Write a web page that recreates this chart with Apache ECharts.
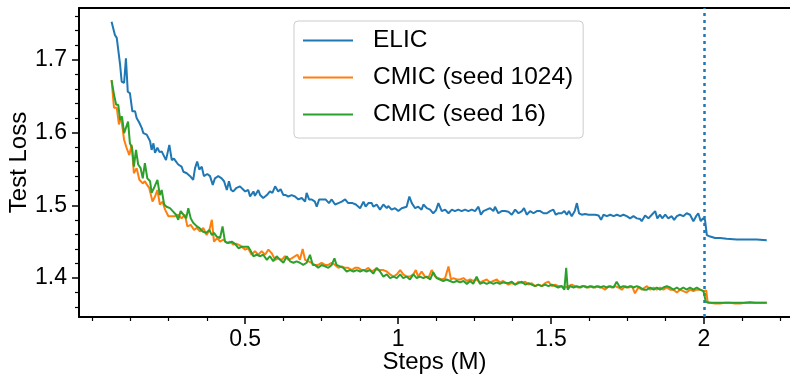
<!DOCTYPE html>
<html>
<head>
<meta charset="utf-8">
<script src="https://cdn.jsdelivr.net/npm/echarts@6/dist/echarts.min.js"></script>
<style>
html,body{margin:0;padding:0;background:#fff;}
#chart{width:790px;height:374px;}
</style>
</head>
<body>
<div id="chart"></div>
<script>
const seriesNames = ['ELIC', 'CMIC (seed 1024)', 'CMIC (seed 16)'];
const xTickLabels = [0.5, 1, 1.5, 2];
const xMinorTicks = [0, 0.125, 0.25, 0.375, 0.625, 0.75, 0.875, 1.125, 1.25, 1.375, 1.625, 1.75, 1.875, 2.125, 2.25];
const yTickLabels = [1.4, 1.5, 1.6, 1.7];
const yMinorTicks = [1.36, 1.38, 1.42, 1.44, 1.46, 1.48, 1.52, 1.54, 1.56, 1.58, 1.62, 1.64, 1.66, 1.68, 1.72, 1.74, 1.76];
const lrDropStep = 2.0;

const elicSteps = [0.063,0.074,0.080,0.091,0.096,0.104,0.110,0.116,0.123,0.131,0.140,0.145,0.153,0.162,0.167,0.178,0.189,0.194,0.200,0.205,0.213,0.220,0.227,0.232,0.241,0.252,0.260,0.267,0.274,0.281,0.292,0.298,0.309,0.320,0.330,0.336,0.343,0.350,0.358,0.365,0.376,0.385,0.394,0.401,0.412,0.423,0.431,0.440,0.447,0.454,0.461,0.472,0.483,0.489,0.500,0.510,0.516,0.527,0.532,0.543,0.549,0.559,0.571,0.581,0.589,0.598,0.603,0.608,0.616,0.625,0.633,0.641,0.652,0.663,0.674,0.685,0.696,0.701,0.709,0.718,0.728,0.734,0.742,0.752,0.763,0.774,0.783,0.794,0.805,0.816,0.827,0.837,0.851,0.862,0.876,0.887,0.894,0.903,0.914,0.919,0.930,0.941,0.952,0.963,0.968,0.979,0.990,1.001,1.012,1.017,1.028,1.037,1.045,1.056,1.066,1.077,1.083,1.094,1.105,1.115,1.124,1.132,1.143,1.154,1.165,1.176,1.186,1.197,1.208,1.219,1.230,1.241,1.252,1.263,1.271,1.279,1.290,1.301,1.312,1.317,1.328,1.339,1.350,1.361,1.372,1.383,1.394,1.405,1.412,1.421,1.432,1.443,1.454,1.465,1.476,1.487,1.497,1.508,1.516,1.524,1.535,1.544,1.552,1.559,1.568,1.578,1.585,1.592,1.601,1.612,1.623,1.634,1.645,1.656,1.664,1.672,1.683,1.694,1.705,1.716,1.727,1.737,1.748,1.759,1.770,1.781,1.792,1.797,1.808,1.819,1.830,1.841,1.848,1.857,1.864,1.874,1.884,1.895,1.903,1.912,1.922,1.933,1.944,1.955,1.966,1.975,1.982,1.990,1.997,2.004,2.010,2.021,2.037,2.053,2.075,2.108,2.140,2.173,2.206];
const elicLoss = [1.752,1.734,1.730,1.693,1.670,1.668,1.702,1.656,1.654,1.629,1.629,1.620,1.614,1.606,1.599,1.597,1.588,1.576,1.585,1.572,1.579,1.573,1.574,1.575,1.562,1.583,1.562,1.564,1.560,1.556,1.553,1.546,1.544,1.540,1.535,1.551,1.560,1.549,1.553,1.540,1.543,1.540,1.528,1.537,1.540,1.537,1.533,1.521,1.533,1.521,1.519,1.524,1.526,1.524,1.519,1.521,1.512,1.519,1.513,1.521,1.514,1.510,1.514,1.519,1.517,1.526,1.528,1.519,1.522,1.514,1.514,1.512,1.514,1.512,1.508,1.510,1.505,1.517,1.508,1.508,1.505,1.498,1.508,1.508,1.508,1.503,1.508,1.501,1.503,1.505,1.508,1.503,1.503,1.501,1.496,1.505,1.498,1.503,1.503,1.498,1.501,1.494,1.501,1.496,1.499,1.494,1.496,1.492,1.496,1.494,1.498,1.512,1.503,1.496,1.498,1.494,1.501,1.496,1.494,1.489,1.493,1.503,1.492,1.494,1.489,1.494,1.492,1.494,1.492,1.494,1.492,1.494,1.492,1.498,1.487,1.492,1.494,1.496,1.492,1.498,1.489,1.492,1.492,1.491,1.487,1.494,1.489,1.492,1.496,1.487,1.492,1.489,1.492,1.492,1.489,1.489,1.492,1.494,1.487,1.489,1.489,1.492,1.487,1.492,1.485,1.492,1.503,1.489,1.487,1.488,1.487,1.487,1.487,1.486,1.480,1.487,1.485,1.487,1.485,1.487,1.485,1.487,1.485,1.482,1.485,1.482,1.481,1.478,1.486,1.482,1.487,1.492,1.482,1.487,1.482,1.487,1.482,1.485,1.480,1.485,1.487,1.485,1.489,1.487,1.478,1.485,1.489,1.478,1.482,1.480,1.459,1.457,1.455,1.455,1.454,1.453,1.453,1.453,1.452];

const cmic1024Steps = [0.063,0.071,0.080,0.087,0.093,0.099,0.104,0.112,0.121,0.129,0.136,0.145,0.154,0.165,0.172,0.179,0.186,0.197,0.205,0.213,0.221,0.230,0.238,0.249,0.260,0.271,0.281,0.292,0.303,0.311,0.322,0.333,0.342,0.352,0.363,0.374,0.383,0.391,0.398,0.409,0.418,0.429,0.440,0.450,0.461,0.472,0.483,0.489,0.500,0.510,0.521,0.532,0.543,0.554,0.565,0.576,0.587,0.598,0.608,0.620,0.630,0.641,0.652,0.663,0.671,0.679,0.688,0.696,0.707,0.718,0.728,0.739,0.750,0.761,0.772,0.783,0.794,0.805,0.816,0.827,0.837,0.849,0.859,0.870,0.881,0.892,0.903,0.914,0.925,0.930,0.941,0.952,0.963,0.974,0.985,0.996,1.007,1.017,1.028,1.039,1.050,1.058,1.066,1.077,1.088,1.099,1.110,1.121,1.132,1.143,1.154,1.165,1.173,1.181,1.192,1.203,1.214,1.225,1.236,1.246,1.257,1.268,1.279,1.290,1.301,1.312,1.323,1.333,1.344,1.350,1.361,1.372,1.383,1.394,1.405,1.416,1.427,1.437,1.448,1.459,1.470,1.481,1.492,1.503,1.514,1.524,1.535,1.546,1.557,1.568,1.579,1.590,1.601,1.612,1.623,1.634,1.645,1.656,1.666,1.677,1.688,1.699,1.710,1.721,1.732,1.743,1.754,1.765,1.775,1.786,1.797,1.803,1.814,1.825,1.836,1.846,1.857,1.868,1.879,1.890,1.901,1.912,1.922,1.933,1.944,1.955,1.966,1.977,1.988,1.999,2.008,2.013,2.021,2.037,2.053,2.070,2.086,2.102,2.119,2.135,2.151,2.168,2.184,2.206];
const cmic1024Loss = [1.672,1.634,1.634,1.611,1.622,1.606,1.590,1.579,1.569,1.583,1.544,1.551,1.535,1.530,1.533,1.528,1.524,1.505,1.512,1.521,1.501,1.505,1.494,1.485,1.485,1.485,1.487,1.482,1.487,1.471,1.473,1.466,1.469,1.464,1.469,1.459,1.466,1.480,1.450,1.455,1.450,1.453,1.448,1.450,1.446,1.447,1.445,1.443,1.439,1.441,1.432,1.437,1.432,1.437,1.432,1.439,1.434,1.425,1.427,1.425,1.430,1.425,1.427,1.430,1.432,1.425,1.440,1.425,1.423,1.421,1.418,1.418,1.421,1.418,1.418,1.421,1.418,1.414,1.416,1.414,1.414,1.411,1.414,1.414,1.411,1.411,1.414,1.409,1.412,1.414,1.411,1.411,1.409,1.405,1.402,1.405,1.411,1.405,1.402,1.402,1.405,1.411,1.402,1.409,1.402,1.400,1.411,1.402,1.400,1.398,1.400,1.416,1.398,1.400,1.398,1.398,1.400,1.396,1.398,1.396,1.398,1.394,1.396,1.398,1.394,1.396,1.398,1.394,1.396,1.395,1.391,1.393,1.391,1.395,1.393,1.395,1.391,1.393,1.389,1.391,1.389,1.393,1.395,1.389,1.391,1.389,1.389,1.387,1.389,1.391,1.389,1.387,1.389,1.389,1.387,1.389,1.387,1.389,1.387,1.384,1.389,1.387,1.389,1.387,1.384,1.389,1.387,1.389,1.379,1.387,1.384,1.382,1.389,1.384,1.387,1.384,1.387,1.384,1.387,1.384,1.384,1.380,1.384,1.382,1.380,1.384,1.382,1.384,1.384,1.382,1.383,1.366,1.366,1.365,1.365,1.366,1.366,1.365,1.365,1.366,1.367,1.366,1.366,1.366];

const cmic16Steps = [0.063,0.071,0.078,0.085,0.091,0.097,0.104,0.110,0.117,0.123,0.130,0.136,0.143,0.150,0.158,0.165,0.172,0.180,0.189,0.194,0.202,0.213,0.221,0.227,0.235,0.243,0.254,0.263,0.274,0.281,0.289,0.298,0.307,0.314,0.322,0.330,0.342,0.350,0.361,0.372,0.383,0.391,0.398,0.407,0.418,0.426,0.434,0.445,0.456,0.467,0.478,0.489,0.500,0.510,0.516,0.527,0.538,0.549,0.559,0.571,0.581,0.592,0.603,0.614,0.625,0.636,0.647,0.658,0.668,0.679,0.690,0.701,0.712,0.721,0.728,0.739,0.750,0.761,0.772,0.783,0.792,0.799,0.810,0.821,0.832,0.843,0.854,0.865,0.876,0.887,0.897,0.908,0.919,0.930,0.941,0.952,0.963,0.974,0.985,0.996,1.007,1.017,1.028,1.039,1.050,1.061,1.072,1.083,1.094,1.105,1.115,1.126,1.137,1.148,1.159,1.170,1.181,1.192,1.203,1.214,1.225,1.236,1.246,1.257,1.268,1.279,1.290,1.301,1.312,1.323,1.333,1.344,1.350,1.361,1.372,1.383,1.394,1.405,1.416,1.427,1.437,1.448,1.459,1.470,1.481,1.492,1.503,1.514,1.524,1.535,1.544,1.550,1.555,1.563,1.574,1.585,1.596,1.606,1.617,1.628,1.639,1.650,1.661,1.672,1.683,1.694,1.705,1.715,1.726,1.737,1.748,1.759,1.770,1.781,1.792,1.803,1.814,1.825,1.836,1.846,1.857,1.868,1.879,1.890,1.901,1.912,1.922,1.933,1.944,1.955,1.966,1.977,1.988,1.999,2.004,2.007,2.021,2.037,2.053,2.070,2.086,2.102,2.119,2.135,2.151,2.168,2.184,2.206];
const cmic16Loss = [1.672,1.652,1.638,1.638,1.617,1.622,1.599,1.601,1.615,1.585,1.579,1.553,1.576,1.556,1.551,1.537,1.558,1.537,1.533,1.517,1.524,1.535,1.514,1.521,1.501,1.498,1.496,1.492,1.487,1.480,1.492,1.487,1.482,1.496,1.482,1.476,1.471,1.469,1.464,1.462,1.466,1.459,1.462,1.457,1.455,1.471,1.450,1.448,1.450,1.447,1.441,1.443,1.443,1.443,1.439,1.430,1.432,1.430,1.432,1.425,1.430,1.423,1.430,1.425,1.421,1.430,1.423,1.421,1.423,1.421,1.418,1.421,1.432,1.418,1.418,1.414,1.418,1.416,1.414,1.418,1.427,1.418,1.416,1.414,1.409,1.411,1.409,1.411,1.409,1.411,1.409,1.411,1.406,1.414,1.409,1.402,1.405,1.400,1.402,1.400,1.405,1.400,1.402,1.398,1.405,1.400,1.402,1.400,1.402,1.398,1.408,1.400,1.398,1.396,1.398,1.396,1.394,1.396,1.394,1.396,1.392,1.396,1.392,1.402,1.392,1.394,1.392,1.394,1.392,1.394,1.392,1.394,1.393,1.393,1.395,1.391,1.393,1.395,1.391,1.393,1.391,1.389,1.391,1.389,1.391,1.389,1.391,1.389,1.387,1.389,1.384,1.414,1.384,1.389,1.387,1.389,1.387,1.389,1.387,1.389,1.387,1.389,1.387,1.389,1.387,1.389,1.387,1.395,1.387,1.389,1.387,1.389,1.387,1.389,1.387,1.384,1.384,1.387,1.384,1.387,1.384,1.387,1.389,1.387,1.384,1.387,1.384,1.387,1.384,1.387,1.384,1.387,1.384,1.382,1.380,1.367,1.366,1.366,1.366,1.366,1.366,1.366,1.366,1.366,1.366,1.366,1.366,1.366];

const colors = ['#1f77b4', '#ff7f0e', '#2ca02c'];
const FONT = 'Liberation Sans, Arial, Helvetica, sans-serif';
const zip = (xs, ys) => xs.map((x, i) => [x, ys[i]]);

const X_MIN = -0.0435, X_MAX = 2.282, Y_MIN = 1.3465, Y_MAX = 1.771;

const chart = echarts.init(document.getElementById('chart'), null, {renderer: 'canvas'});
const option = {
  animation: false,
  backgroundColor: '#fff',
  grid: {left: 79, right: 0, top: 8, bottom: 57, containLabel: false, outerBoundsMode: 'none'},
  legend: {
    orient: 'vertical',
    left: 294, top: 21,
    data: seriesNames,
    icon: 'rect',
    itemWidth: 50, itemHeight: 2, itemGap: 12,
    padding: [7, 10, 11, 9],
    backgroundColor: 'rgba(255,255,255,0.8)',
    borderColor: '#cccccc', borderWidth: 1, borderRadius: 4,
    textStyle: {fontFamily: FONT, fontSize: 24.5, color: '#000', lineHeight: 24, padding: [0, 0, 0, 15]}
  },
  xAxis: [
    {
      type: 'value', min: X_MIN, max: X_MAX, position: 'bottom', offset: 0,
      name: 'Steps (M)', nameLocation: 'middle', nameGap: 33, nameMoveOverlap: false,
      nameTextStyle: {fontFamily: FONT, fontSize: 24, color: '#000', verticalAlign: 'top', lineHeight: 24},
      axisLine: {show: true, onZero: false, lineStyle: {color: '#000', width: 2}},
      axisTick: {show: true, inside: false, length: 7, customValues: xTickLabels, lineStyle: {color: '#000', width: 1.5}},
      axisLabel: {show: true, customValues: xTickLabels, margin: 11, fontFamily: FONT, fontSize: 23, color: '#000'},
      splitLine: {show: false}
    },
    {
      type: 'value', min: X_MIN, max: X_MAX, position: 'bottom', offset: 0,
      axisLine: {show: false, onZero: false},
      axisTick: {show: true, inside: false, length: 4, customValues: xMinorTicks, lineStyle: {color: '#000', width: 1.2}},
      axisLabel: {show: false},
      splitLine: {show: false}
    },
    {
      type: 'value', min: X_MIN, max: X_MAX, position: 'top', offset: 0,
      axisLine: {show: true, onZero: false, lineStyle: {color: '#000', width: 2}},
      axisTick: {show: false}, axisLabel: {show: false}, splitLine: {show: false}
    }
  ],
  yAxis: [
    {
      type: 'value', min: Y_MIN, max: Y_MAX, position: 'left', offset: 0,
      name: 'Test Loss', nameLocation: 'middle', nameGap: 48, nameRotate: 90, nameMoveOverlap: false,
      nameTextStyle: {fontFamily: FONT, fontSize: 24, color: '#000', lineHeight: 24},
      axisLine: {show: true, onZero: false, lineStyle: {color: '#000', width: 2}},
      axisTick: {show: true, inside: false, length: 7, customValues: yTickLabels, lineStyle: {color: '#000', width: 1.5}},
      axisLabel: {show: true, customValues: yTickLabels, margin: 12, fontFamily: FONT, fontSize: 23, color: '#000'},
      splitLine: {show: false}
    },
    {
      type: 'value', min: Y_MIN, max: Y_MAX, position: 'left', offset: 0,
      axisLine: {show: false, onZero: false},
      axisTick: {show: true, inside: false, length: 4, customValues: yMinorTicks, lineStyle: {color: '#000', width: 1.2}},
      axisLabel: {show: false},
      splitLine: {show: false}
    }
  ],
  series: [
    {
      name: seriesNames[0], type: 'line', xAxisIndex: 0, yAxisIndex: 0,
      data: zip(elicSteps, elicLoss), symbol: 'none', showSymbol: false,
      lineStyle: {color: colors[0], width: 2}, itemStyle: {color: colors[0]},
      z: 3,
      markLine: {
        silent: true, symbol: ['none', 'none'], label: {show: false},
        lineStyle: {color: colors[0], type: [3, 4], width: 2.5},
        data: [{xAxis: lrDropStep}]
      }
    },
    {
      name: seriesNames[1], type: 'line', xAxisIndex: 0, yAxisIndex: 0,
      data: zip(cmic1024Steps, cmic1024Loss), symbol: 'none', showSymbol: false,
      lineStyle: {color: colors[1], width: 2}, itemStyle: {color: colors[1]}, z: 4
    },
    {
      name: seriesNames[2], type: 'line', xAxisIndex: 0, yAxisIndex: 0,
      data: zip(cmic16Steps, cmic16Loss), symbol: 'none', showSymbol: false,
      lineStyle: {color: colors[2], width: 2}, itemStyle: {color: colors[2]}, z: 5
    }
  ]
};
chart.setOption(option);
</script>
</body>
</html>
